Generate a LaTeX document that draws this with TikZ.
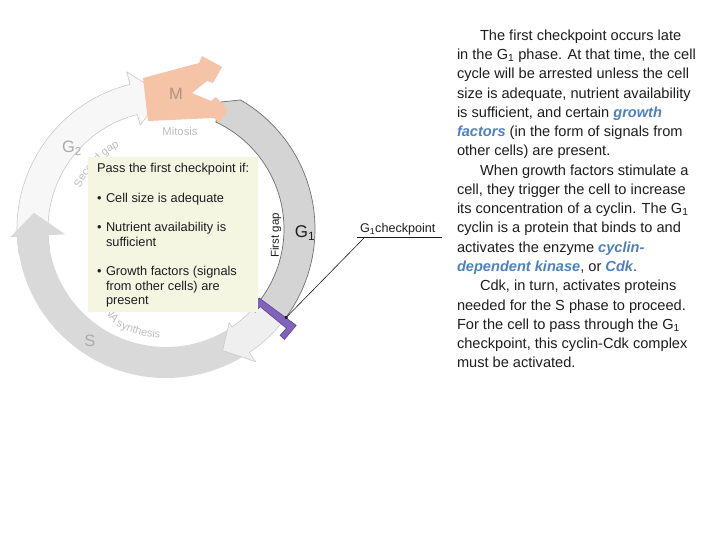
\documentclass[tikz,border=0pt]{standalone}
\usepackage{fontspec}
\setmainfont{Liberation Sans}
\usetikzlibrary{arrows.meta,decorations.text}
\definecolor{bandGone}{HTML}{D4D4D4}
\definecolor{bandGonee}{HTML}{6F6F6F}
\definecolor{bandS}{HTML}{D9D9D9}
\definecolor{bandGtwo}{HTML}{F7F7F7}
\definecolor{bandGtwoe}{HTML}{C2C2C2}
\definecolor{postG}{HTML}{EFEFEF}
\definecolor{postGe}{HTML}{C6C6C6}
\definecolor{mito}{HTML}{F5C4A6}
\definecolor{mitotxt}{HTML}{B09282}
\definecolor{cpv}{HTML}{8064BC}
\definecolor{cpve}{HTML}{5E4698}
\definecolor{boxfill}{HTML}{F4F6E2}
\definecolor{keyblue}{HTML}{4F81BD}
\definecolor{lightlab}{HTML}{ABABAB}
\definecolor{arclab}{HTML}{BDBDBD}
\definecolor{txtdark}{HTML}{1E1E1E}
\newcommand\kw[1]{\textcolor{keyblue}{\bfseries\itshape #1}}
\tikzset{
  every node/.style={inner sep=0pt, outer sep=0pt},
  rtext/.style={anchor=base west, font=\fontsize{14.6}{17}\selectfont, text=txtdark},
  btext/.style={anchor=base west, font=\fontsize{12.8}{15}\selectfont, text=txtdark},
  ringlab/.style={font=\fontsize{16.5}{18}\selectfont, text=lightlab},
  gonebandst/.style={fill=bandGone, draw=bandGonee, line width=0.7pt},
  gtwobandst/.style={fill=bandGtwo, draw=bandGtwoe, line width=0.5pt},
  sbandst/.style={fill=bandS},
  postbandst/.style={fill=postG, draw=postGe, line width=0.5pt},
  cpbarst/.style={fill=cpv, draw=cpve, line width=0.6pt},
  mshapest/.style={fill=mito},
  boxnode/.style={fill=boxfill, minimum width=170pt, minimum height=154.5pt},
  arctext/.style={decorate, decoration={text along path, text color=arclab}}
}
\begin{document}
\begin{tikzpicture}[x=1pt,y=-1pt]
\useasboundingbox (0,0) rectangle (720,540);
\fill[white] (0,0) rectangle (720,540);

% ---- cycle ring ----
\begin{scope}[shift={(166,229)}, yscale=-1]
  % G2 band
  \path[gtwobandst] (190:118) arc[start angle=190,end angle=104,radius=118]
     -- (104:107) -- (91:134) -- (104:162) -- (104:149)
     arc[start angle=104,end angle=190,radius=149] -- cycle;
  % S band
  \path[sbandst] (-59:118) arc[start angle=-59,end angle=-177,radius=118]
     -- (-177:101) -- (-187:133) -- (-177:156) -- (-177:149)
     arc[start angle=-177,end angle=-59,radius=149] -- cycle;
  % G1 band
  \path[gonebandst] (55,127) -- (60:149) arc[start angle=60,end angle=-38,radius=149]
     -- (-38:118) arc[start angle=-38,end angle=65,radius=118] -- cycle;
  % arrow after checkpoint
  \path[postbandst] (-37:118) arc[start angle=-37,end angle=-56,radius=118]
     -- (-56:113) -- (-65:134) -- (-56:160) -- (-56:149)
     arc[start angle=-56,end angle=-37,radius=149] -- cycle;
  % checkpoint bar
  \path[cpbarst] (-36.5:116) -- (-36.5:162) -- (-43:162) -- (-43:156) -- (-39.5:156)
     -- (-39.5:122) -- (-43:122) -- (-43:116) -- cycle;
  \coordinate (cpend) at (-37:149);
\end{scope}

% M forked arrow
\path[mshapest] (143,78) -- (199,63) -- (202,56) -- (222,67) -- (213,83) -- (207,81)
   -- (192,93) -- (211,101) -- (216,97) -- (228,110) -- (219,123) -- (214,118)
   -- (148,121) -- cycle;

% arc texts
\path[arctext, decoration={text align=center, text={|\fontsize{11}{13}\selectfont|Second gap}}]
   (166,229) ++(-158:95) arc[start angle=-158,end angle=-116,radius=95];
\path[arctext, decoration={text align=left, text={|\fontsize{11}{13}\selectfont|DNA synthesis}}]
   (100,305) .. controls (105,312) and (110,320) .. (116.5,326.1)
   arc[start angle=-243,end angle=-274,radius=109];

% ring labels
\node[ringlab, text=mitotxt] (mlab) at (176,94) {M};
\node[font=\fontsize{11.3}{13}\selectfont, text=arclab] (mitlab) at (180,131) {Mitosis};
\node[ringlab] (gtwolab) at (72,148) {G\textsubscript{2}};
\node[ringlab] (slab) at (90,341) {S};
\node[font=\fontsize{17}{19}\selectfont, text=txtdark] (gonelab) at (305,233) {G\textsubscript{1}};
\node[rotate=90, font=\fontsize{11.5}{13}\selectfont, text=txtdark] (fgap) at (276,235.5) {First gap};

% info box
\node[boxnode] (box) at (173,234.25) {};
\node[btext] (b1) at (97,172.5) {Pass the first checkpoint if:};
\node[btext] (b2) at (97,202.5) {\textbullet};
\node[btext] (b3) at (106,202.5) {Cell size is adequate};
\node[btext] (b4) at (97,231.5) {\textbullet};
\node[btext] (b5) at (106,231.5) {Nutrient availability is};
\node[btext] (b6) at (106,246.5) {sufficient};
\node[btext] (b7) at (97,275.5) {\textbullet};
\node[btext] (b8) at (106,275.5) {Growth factors (signals};
\node[btext] (b9) at (106,290.5) {from other cells) are};
\node[btext] (b10) at (106,304.5) {present};

% checkpoint label and leader
\node[anchor=base west, font=\fontsize{12.6}{14}\selectfont, text=txtdark] (cpl) at (360,233) {G\textsubscript{1}checkpoint};
\coordinate (ulA) at (357,237);
\coordinate (ulB) at (442,237);
\coordinate (ldA) at (365,237);
\draw[line width=0.5pt, txtdark] (ulA) -- (ulB);
\draw[line width=0.6pt, txtdark, -{Circle[length=3.5pt]}] (ldA) -- (cpend);

% right-hand text
\node[rtext] (r1) at (480,40.5) {The first checkpoint occurs late};
\node[rtext] (r2) at (457,59.75) {in the G\textsubscript{1} phase. At that time, the cell};
\node[rtext] (r3) at (457,79) {cycle will be arrested unless the cell};
\node[rtext] (r4) at (457,98.25) {size is adequate, nutrient availability};
\node[rtext] (r5) at (457,117.5) {is sufficient, and certain \kw{growth}};
\node[rtext] (r6) at (457,136.75) {\kw{factors} (in the form of signals from};
\node[rtext] (r7) at (457,156) {other cells) are present.};
\node[rtext] (r8) at (480,175.25) {When growth factors stimulate a};
\node[rtext] (r9) at (457,194.5) {cell, they trigger the cell to increase};
\node[rtext] (r10) at (457,213.75) {its concentration of a cyclin. The G\textsubscript{1}};
\node[rtext] (r11) at (457,233) {cyclin is a protein that binds to and};
\node[rtext] (r12) at (457,252.25) {activates the enzyme \kw{cyclin-}};
\node[rtext] (r13) at (457,271.5) {\kw{dependent kinase}, or \kw{Cdk}.};
\node[rtext] (r14) at (480,290.75) {Cdk, in turn, activates proteins};
\node[rtext] (r15) at (457,310) {needed for the S phase to proceed.};
\node[rtext] (r16) at (457,329.25) {For the cell to pass through the G\textsubscript{1}};
\node[rtext] (r17) at (457,348.5) {checkpoint, this cyclin-Cdk complex};
\node[rtext] (r18) at (457,367.75) {must be activated.};
\end{tikzpicture}
\end{document}
